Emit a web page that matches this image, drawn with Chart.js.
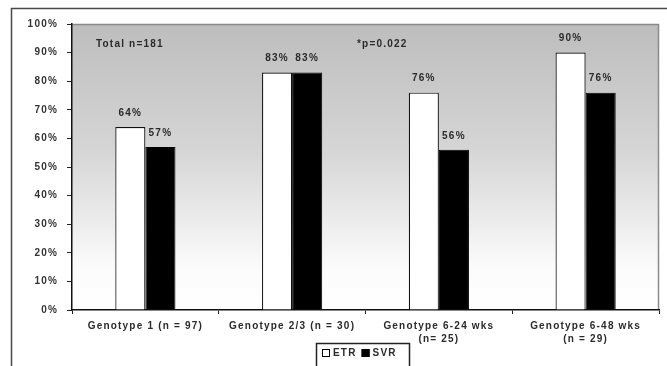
<!DOCTYPE html>
<html>
<head>
<meta charset="utf-8">
<script src="https://cdn.jsdelivr.net/npm/chart.js@4.4.1/dist/chart.umd.min.js"></script>
<style>
  html, body { margin: 0; padding: 0; background: #ffffff; }
  #wrap { width: 667px; height: 366px; position: relative; }
</style>
</head>
<body>
<div id="wrap"><canvas id="c" width="667" height="366"></canvas></div>
<script>
// Response rates by genotype group
const categories = [
  'Genotype 1 (n = 97)',
  'Genotype 2/3 (n = 30)',
  ['Genotype 6-24 wks', '(n= 25)'],
  ['Genotype 6-48 wks', '(n = 29)']
];
const etrValues = [64, 83, 76, 90];
const svrValues = [57, 83, 56, 76];
const yTicks = [0, 10, 20, 30, 40, 50, 60, 70, 80, 90, 100];
const notes = [
  { text: 'Total n=181', x: 96, y: 44 },
  { text: '*p=0.022', x: 357, y: 44 }
];

const FONT = 'bold 10px "Liberation Sans", Arial, sans-serif';
const SPACING = '1.2px';
const TEXT = '#2a2a2a';

function setSpacing(chart) {
  chart.ctx.letterSpacing = SPACING;
}

const framePlugin = {
  id: 'frame',
  beforeLayout(chart) { setSpacing(chart); },
  beforeDraw(chart) {
    const { ctx, chartArea: a } = chart;
    setSpacing(chart);
    ctx.save();
    // outer frame
    ctx.strokeStyle = '#4a4a4a';
    ctx.lineWidth = 1.5;
    ctx.strokeRect(11.5, 8.5, 670, 380);
    // plot background: grey fading to white toward the baseline
    const g = ctx.createLinearGradient(0, a.top, 0, a.bottom);
    g.addColorStop(0, '#bdbdbd');
    g.addColorStop(0.45, '#d6d6d6');
    g.addColorStop(0.85, '#fbfbfb');
    g.addColorStop(1, '#ffffff');
    ctx.fillStyle = g;
    ctx.fillRect(a.left, a.top, a.right - a.left, a.bottom - a.top);
    // top and right edges of the plot area
    ctx.strokeStyle = '#8a8a8a';
    ctx.lineWidth = 1.5;
    ctx.beginPath();
    ctx.moveTo(a.left, a.top + 0.5);
    ctx.lineTo(a.right - 0.5, a.top + 0.5);
    ctx.lineTo(a.right - 0.5, a.bottom);
    ctx.stroke();
    ctx.restore();
  },
  afterDraw(chart) {
    const { ctx } = chart;
    ctx.save();
    ctx.letterSpacing = SPACING;
    ctx.font = FONT;
    ctx.fillStyle = TEXT;
    ctx.textBaseline = 'middle';

    // value labels above each bar
    ctx.textAlign = 'center';
    chart.data.datasets.forEach((ds, di) => {
      const meta = chart.getDatasetMeta(di);
      meta.data.forEach((bar, i) => {
        ctx.fillText(ds.data[i] + '%', bar.x, bar.y - 14);
      });
    });

    // notes
    ctx.textAlign = 'left';
    notes.forEach(n => ctx.fillText(n.text, n.x, n.y));

    // legend with a box around it
    const lx = 316, ly = 343, lw = 93, lh = 40;
    ctx.fillStyle = '#ffffff';
    ctx.fillRect(lx, ly, lw, lh);
    ctx.strokeStyle = '#222222';
    ctx.lineWidth = 1.5;
    ctx.strokeRect(lx + 0.5, ly + 0.5, lw, lh);
    let x = lx + 6;
    const cy = ly + 10;
    chart.data.datasets.forEach(ds => {
      ctx.fillStyle = ds.backgroundColor;
      ctx.fillRect(x, cy - 4, 8, 8);
      ctx.strokeStyle = '#000000';
      ctx.lineWidth = 1;
      ctx.strokeRect(x + 0.5, cy - 3.5, 7, 7);
      ctx.fillStyle = TEXT;
      ctx.fillText(ds.label, x + 11, cy + 0.5);
      x += 11 + ctx.measureText(ds.label).width + 5;
    });
    ctx.restore();
  }
};

new Chart(document.getElementById('c'), {
  type: 'bar',
  data: {
    labels: categories,
    datasets: [
      {
        label: 'ETR',
        data: etrValues,
        backgroundColor: '#ffffff',
        borderColor: '#111111',
        borderWidth: 1.2
      },
      {
        label: 'SVR',
        data: svrValues,
        backgroundColor: '#000000',
        borderColor: '#000000',
        borderWidth: 1
      }
    ]
  },
  options: {
    responsive: false,
    animation: false,
    devicePixelRatio: 1,
    layout: { padding: { left: 0, top: 24, right: 8, bottom: 0 } },
    datasets: { bar: { categoryPercentage: 0.41, barPercentage: 1.0 } },
    plugins: {
      legend: { display: false },
      tooltip: { enabled: false }
    },
    scales: {
      x: {
        offset: true,
        grid: {
          offset: true,
          drawOnChartArea: false,
          drawTicks: true,
          tickLength: 4,
          color: '#222222'
        },
        border: { color: '#111111', width: 1.5 },
        ticks: {
          autoSkip: false,
          maxRotation: 0,
          minRotation: 0,
          padding: 6,
          color: TEXT,
          font: { family: '"Liberation Sans", Arial, sans-serif', size: 10, weight: 'bold', lineHeight: 1.3 }
        },
        afterFit(scale) { scale.height = 56; }
      },
      y: {
        min: 0,
        max: 100,
        afterBuildTicks(scale) { scale.ticks = yTicks.map(v => ({ value: v })); },
        grid: {
          drawOnChartArea: false,
          drawTicks: true,
          tickLength: 5,
          color: '#222222'
        },
        border: { color: '#111111', width: 1.5 },
        ticks: {
          padding: 9,
          color: '#333333',
          font: { family: '"Liberation Sans", Arial, sans-serif', size: 10, weight: 'bold' },
          callback: v => v + '%'
        },
        afterFit(scale) { scale.width = 72; }
      }
    }
  },
  plugins: [framePlugin]
});
</script>
</body>
</html>
